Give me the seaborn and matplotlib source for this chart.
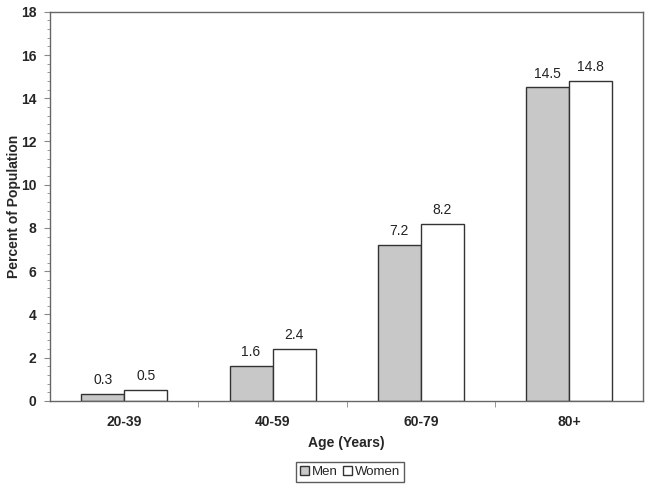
import pandas as pd
import matplotlib.pyplot as plt
import seaborn as sns
from matplotlib.ticker import MultipleLocator, FixedLocator

age_groups = ["20-39", "40-59", "60-79", "80+"]
men = [0.3, 1.6, 7.2, 14.5]
women = [0.5, 2.4, 8.2, 14.8]

df = pd.DataFrame({
    "Age": age_groups * 2,
    "Percent": men + women,
    "Sex": ["Men"] * len(men) + ["Women"] * len(women),
})

sns.set_style("white")
plt.rcParams["font.family"] = ["Liberation Sans", "DejaVu Sans"]

fig = plt.figure(figsize=(6.51, 4.93), dpi=100)
ax = fig.add_axes([0.077, 0.187, 0.911, 0.789])

sns.barplot(data=df, x="Age", y="Percent", hue="Sex",
            palette={"Men": "#c8c8c8", "Women": "#ffffff"},
            edgecolor="#333333", linewidth=1.0, width=0.58, ax=ax)

# value labels
for cont in ax.containers:
    ax.bar_label(cont, fmt="%.1f", padding=5, fontsize=10, color="#222222")

ax.set_ylim(0, 18)
ax.set_xlim(-0.5, 3.5)
ax.yaxis.set_major_locator(MultipleLocator(2))
ax.yaxis.set_minor_locator(MultipleLocator(0.4))
ax.xaxis.set_minor_locator(FixedLocator([0.5, 1.5, 2.5]))

for s in ax.spines.values():
    s.set_color("#666666")
    s.set_linewidth(1.0)

ax.tick_params(axis="y", which="major", direction="out", length=4, color="#888888",
               labelsize=10, left=True, pad=6)
ax.tick_params(axis="y", which="minor", direction="out", length=2, color="#888888", left=True)
ax.tick_params(axis="x", which="major", length=0, labelsize=10, pad=10)
ax.tick_params(axis="x", which="minor", direction="out", length=4, color="#888888", bottom=True)
for lab in ax.get_xticklabels() + ax.get_yticklabels():
    lab.set_fontweight("bold")

ax.set_xlabel("Age (Years)", fontsize=10, fontweight="bold")
ax.set_ylabel("Percent of Population", fontsize=10, fontweight="bold")
ax.xaxis.set_label_coords(0.5, -0.09)
ax.yaxis.set_label_coords(-0.049, 0.5)

handles, labels = ax.get_legend_handles_labels()
ax.get_legend().remove()
fig.legend(handles, labels, loc="center", bbox_to_anchor=(0.538, 0.043), ncol=2, frameon=True,
           fancybox=False, edgecolor="#333333", fontsize=9.5, handlelength=0.7,
           handleheight=0.7, handletextpad=0.2, columnspacing=0.4, borderpad=0.3)

fig.savefig("out.png", dpi=100)
